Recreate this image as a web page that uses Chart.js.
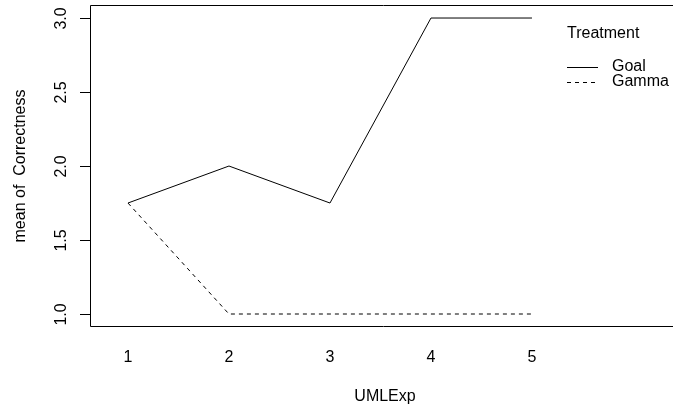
<!DOCTYPE html>
<html lang="en">
<head>
    <meta charset="UTF-8">
    <title>Interaction plot</title>
    <script src="https://cdn.jsdelivr.net/npm/chart.js"></script>
    <style>
        * { box-sizing: border-box; }
        body, html { margin:0; padding:0; background:#fff; overflow:hidden; }
        #wrap { width:684px; height:412px; position:relative; }
    </style>
</head>
<body>
    <div id="wrap"><canvas id="chart"></canvas></div>
    <script>
        // data
        const xLevels = [1, 2, 3, 4, 5];
        const goalMeans = [1.75, 2.0, 1.75, 3.0, 3.0];
        const gammaMeans = [1.75, 1.0, 1.0, 1.0, 1.0];
        const yTicks = [1.0, 1.5, 2.0, 2.5, 3.0];
        const legendTitle = 'Treatment';
        const seriesNames = ['Goal', 'Gamma'];

        const FONT = '16px "Liberation Sans", Arial, sans-serif';

        // box, axis ticks, labels and legend drawn R-style
        const rStyle = {
            id: 'rStyle',
            afterDraw(chart) {
                const { ctx, chartArea: a, scales: { x, y } } = chart;
                ctx.save();
                ctx.strokeStyle = '#000';
                ctx.lineWidth = 1;
                ctx.beginPath();
                ctx.rect(Math.round(a.left) + 0.5, Math.round(a.top) + 0.5,
                    Math.round(a.right - a.left), Math.round(a.bottom - a.top));
                ctx.stroke();

                // y ticks
                ctx.fillStyle = '#000';
                ctx.font = FONT;
                ctx.textAlign = 'center';
                ctx.textBaseline = 'middle';
                yTicks.forEach(v => {
                    const py = Math.round(y.getPixelForValue(v)) + 0.5;
                    ctx.beginPath();
                    ctx.moveTo(a.left - 10, py);
                    ctx.lineTo(a.left, py);
                    ctx.stroke();
                    ctx.save();
                    ctx.translate(a.left - 28, py);
                    ctx.rotate(-Math.PI / 2);
                    ctx.fillText(v.toFixed(1), 0, 0);
                    ctx.restore();
                });

                // x labels (no ticks)
                xLevels.forEach(v => {
                    ctx.fillText(String(v), x.getPixelForValue(v), 358);
                });

                // axis titles
                ctx.fillText('UMLExp', 385, 397);
                ctx.save();
                ctx.translate(21, 166);
                ctx.rotate(-Math.PI / 2);
                ctx.fillText('mean of  Correctness', 0, 0);
                ctx.restore();

                // legend
                ctx.textAlign = 'left';
                ctx.fillText(legendTitle, 567, 34);
                const rows = [67, 82];
                rows.forEach((ry, i) => {
                    ctx.setLineDash(i === 0 ? [] : [4, 4]);
                    ctx.beginPath();
                    ctx.moveTo(567, ry + 0.5);
                    ctx.lineTo(598, ry + 0.5);
                    ctx.stroke();
                    ctx.fillText(seriesNames[i], 612, ry);
                });
                ctx.restore();
            }
        };

        new Chart(document.getElementById('chart'), {
            type: 'line',
            data: {
                datasets: [
                    {
                        label: seriesNames[0],
                        data: xLevels.map((v, i) => ({ x: v, y: goalMeans[i] })),
                        borderColor: '#000', borderWidth: 1, pointRadius: 0, tension: 0
                    },
                    {
                        label: seriesNames[1],
                        data: xLevels.map((v, i) => ({ x: v, y: gammaMeans[i] })),
                        borderColor: '#000', borderWidth: 1, borderDash: [4, 4], pointRadius: 0, tension: 0
                    }
                ]
            },
            options: {
                responsive: true,
                maintainAspectRatio: false,
                animation: false,
                layout: { padding: { left: 90, top: 5, right: 8, bottom: 86 } },
                plugins: { legend: { display: false }, tooltip: { enabled: false } },
                scales: {
                    x: { type: 'linear', min: 0.624, max: 6.426, display: false },
                    y: { min: 0.919, max: 3.088, display: false }
                }
            },
            plugins: [rStyle]
        });
    </script>
</body>
</html>
